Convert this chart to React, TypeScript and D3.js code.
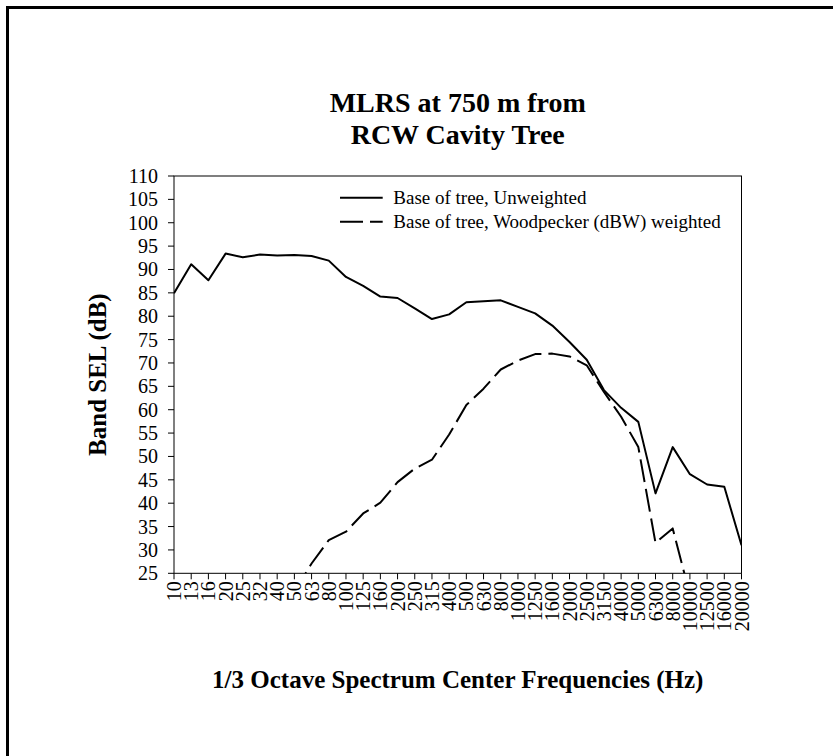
import React from "react";
import * as d3 from "d3";

const categories = ["10","13","16","20","25","32","40","50","63","80","100","125","160","200","250","315","400","500","630","800","1000","1250","1600","2000","2500","3150","4000","5000","6300","8000","10000","12500","16000","20000"];

const unweighted: (number | null)[] = [84.9, 91.1, 87.7, 93.4, 92.6, 93.2, 93.0, 93.1, 92.9, 91.9, 88.4, 86.5, 84.2, 83.9, 81.7, 79.4, 80.4, 83.0, 83.2, 83.4, 82.0, 80.6, 78.0, 74.5, 70.7, 64.2, 60.4, 57.4, 42.1, 52.0, 46.2, 44.0, 43.5, 31.0];

const weighted: (number | null)[] = [null, null, null, null, null, null, null, 21.0, 27.1, 32.1, 33.9, 37.8, 40.1, 44.5, 47.4, 49.3, 54.7, 61.0, 64.5, 68.6, 70.5, 71.9, 72.0, 71.4, 69.5, 63.8, 58.5, 52.0, 31.5, 34.6, 20.4, null, null, null];

const yTicks = [25, 30, 35, 40, 45, 50, 55, 60, 65, 70, 75, 80, 85, 90, 95, 100, 105, 110];

const titleLines = ["MLRS at 750 m from", "RCW Cavity Tree"];
const xTitle = "1/3 Octave Spectrum Center Frequencies (Hz)";
const yTitle = "Band SEL (dB)";
const seriesNames = ["Base of tree, Unweighted", "Base of tree, Woodpecker (dBW) weighted"];

const FONT = "'Liberation Serif', 'Times New Roman', Times, serif";

export default function App() {
  const left = 174, right = 741.5, top = 176, bottom = 573.3;
  const x = d3.scalePoint<string>().domain(categories).range([left, right]);
  const y = d3.scaleLinear().domain([25, 110]).range([bottom, top]);

  const mk = (vals: (number | null)[]) =>
    d3.line<number | null>()
      .defined((d) => d !== null)
      .x((_, i) => x(categories[i]) as number)
      .y((d) => y(d as number))(vals) as string;

  const dash = "23 7";
  const cx = (left + right) / 2;

  return (
    <svg width={833} height={756} style={{ position: "absolute", left: 0, top: 0, background: "#fff" }} fontFamily={FONT}>
      <rect x={0} y={0} width={833} height={756} fill="#fff" />
      <rect x={7.5} y={7.5} width={1000} height={1000} fill="none" stroke="#000" strokeWidth={3} />
      <defs>
        <clipPath id="plotclip">
          <rect x={left} y={top} width={right - left} height={bottom - top} />
        </clipPath>
      </defs>

      {titleLines.map((t, i) => (
        <text key={t} x={cx} y={112 + i * 32} textAnchor="middle" fontSize={28} fontWeight="bold">{t}</text>
      ))}

      <rect x={left} y={top} width={right - left} height={bottom - top} fill="none" stroke="#000" strokeWidth={1} />

      {yTicks.map((v) => (
        <g key={v}>
          <line x1={left - 6} x2={left} y1={y(v)} y2={y(v)} stroke="#000" strokeWidth={1} />
          <text x={158} y={y(v)} dy="0.35em" textAnchor="end" fontSize={20}>{v}</text>
        </g>
      ))}

      {categories.map((c) => {
        const px = x(c) as number;
        return (
          <g key={c}>
            <line x1={px} x2={px} y1={bottom} y2={bottom + 6} stroke="#000" strokeWidth={1} />
            <text transform={`translate(${px},${bottom + 8}) rotate(-90)`} dy="0.35em" textAnchor="end" fontSize={20}>{c}</text>
          </g>
        );
      })}

      <g clipPath="url(#plotclip)">
        <path d={mk(unweighted)} fill="none" stroke="#000" strokeWidth={2} strokeLinejoin="round" />
        <path d={mk(weighted)} fill="none" stroke="#000" strokeWidth={2} strokeDasharray={dash} strokeLinejoin="round" />
      </g>

      <line x1={340} x2={382.7} y1={197.7} y2={197.7} stroke="#000" strokeWidth={2} />
      <text x={393.3} y={197.7} dy="0.35em" fontSize={19}>{seriesNames[0]}</text>
      <line x1={340} x2={382.7} y1={221.7} y2={221.7} stroke="#000" strokeWidth={2} strokeDasharray={dash} />
      <text x={393.3} y={221.7} dy="0.35em" fontSize={19}>{seriesNames[1]}</text>

      <text x={cx} y={688} textAnchor="middle" fontSize={25} fontWeight="bold">{xTitle}</text>
      <text transform={`translate(106,${(top + bottom) / 2}) rotate(-90)`} textAnchor="middle" fontSize={25} fontWeight="bold">{yTitle}</text>
    </svg>
  );
}
